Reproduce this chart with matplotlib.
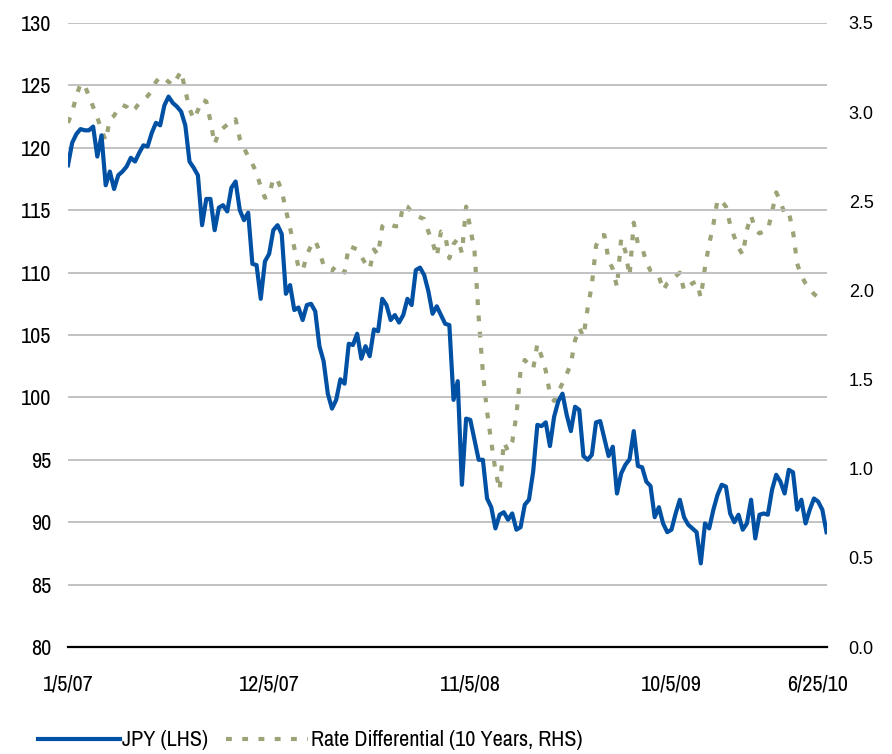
import matplotlib
matplotlib.use("Agg")
import matplotlib.pyplot as plt
import matplotlib.transforms as mtransforms
from matplotlib import font_manager
import numpy as np
import pandas as pd

# Weekly observations, Friday closes starting 5 Jan 2007
jpy = [
    118.6, 120.4, 121.1, 121.5, 121.4, 121.4, 121.7, 119.3, 121.0, 117.0,
    118.1, 116.7, 117.8, 118.1, 118.5, 119.2, 118.9, 119.6, 120.2, 120.1,
    121.2, 122.0, 121.8, 123.4, 124.1, 123.6, 123.3, 122.9, 121.8, 118.9,
    118.4, 117.8, 113.8, 115.9, 115.9, 113.4, 115.2, 115.4, 114.9, 116.8,
    117.3, 115.0, 114.2, 114.8, 110.7, 110.6, 107.9, 110.9, 111.5, 113.4,
    113.8, 113.1, 108.3, 109.0, 107.0, 107.2, 106.2, 107.4, 107.5, 106.9,
    104.1, 102.9, 100.3, 99.1, 99.8, 101.45, 101.1, 104.3, 104.2, 105.1,
    103.1, 104.1, 103.3, 105.45, 105.3, 107.9, 107.4, 106.2, 106.6, 106.0,
    106.6, 107.9, 107.4, 110.2, 110.4, 109.8, 108.5, 106.7, 107.3, 106.6,
    105.9, 105.8, 99.8, 101.3, 93.0, 98.3, 98.2, 96.6, 95.0, 95.0,
    91.9, 91.2, 89.5, 90.6, 90.8, 90.2, 90.7, 89.4, 89.6, 91.4,
    91.8, 94.05, 97.8, 97.7, 98.0, 96.1, 98.45, 99.7, 100.3, 98.6,
    97.3, 99.25, 99.0, 95.3, 95.0, 95.4, 98.0, 98.1, 96.7, 95.3,
    96.05, 92.3, 93.9, 94.6, 95.04, 97.3, 94.5, 94.4, 93.25, 92.9,
    90.4, 91.2, 89.9, 89.2, 89.4, 90.7, 91.8, 90.4, 89.8, 89.5,
    89.2, 86.7, 89.9, 89.5, 91.0, 92.2, 93.0, 92.85, 90.7, 90.0,
    90.6, 89.4, 89.9, 91.8, 88.7, 90.6, 90.7, 90.6, 92.6, 93.8,
    93.25, 92.3, 94.2, 94.0, 91.0, 91.8, 89.9, 91.0, 91.9, 91.65,
    91.0, 89.2,
]

rate_diff = [
    2.94, 3.00, 3.09, 3.16, 3.15, 3.09, 3.03, 2.97, 2.90, 2.84,
    2.96, 2.98, 3.02, 3.04, 3.03, 3.00, 3.02, 3.05, 3.07, 3.09,
    3.12, 3.17, 3.20, 3.19, 3.17, 3.15, 3.19, 3.23, 3.12, 3.02,
    2.96, 3.01, 3.07, 3.06, 2.95, 2.82, 2.89, 2.91, 2.93, 2.93,
    2.96, 2.85, 2.80, 2.75, 2.71, 2.66, 2.58, 2.52, 2.53, 2.63,
    2.62, 2.56, 2.45, 2.35, 2.24, 2.13, 2.11, 2.20, 2.25, 2.28,
    2.22, 2.14, 2.12, 2.11, 2.14, 2.12, 2.10, 2.25, 2.24, 2.23,
    2.19, 2.15, 2.12, 2.23, 2.20, 2.36, 2.38, 2.37, 2.36, 2.36,
    2.48, 2.47, 2.44, 2.42, 2.41, 2.40, 2.33, 2.27, 2.19, 2.33,
    2.31, 2.18, 2.26, 2.29, 2.21, 2.47, 2.35, 2.22, 1.85, 1.54,
    1.32, 1.15, 0.99, 0.88, 1.15, 1.10, 1.15, 1.30, 1.55, 1.61,
    1.58, 1.56, 1.70, 1.63, 1.55, 1.42, 1.38, 1.43, 1.48, 1.53,
    1.59, 1.72, 1.79, 1.74, 1.90, 2.03, 2.25, 2.31, 2.31, 2.17,
    2.12, 2.02, 2.29, 2.22, 2.08, 2.38, 2.26, 2.24, 2.16, 2.11,
    2.10, 2.08, 2.00, 2.04, 2.06, 2.08, 2.10, 2.00, 2.02, 2.04,
    2.05, 1.96, 2.13, 2.26, 2.37, 2.51, 2.50, 2.47, 2.37, 2.30,
    2.24, 2.20, 2.34, 2.42, 2.34, 2.32, 2.33, 2.34, 2.44, 2.55,
    2.50, 2.43, 2.44, 2.33, 2.15, 2.08, 2.04, 2.01, 1.98, 1.96,
]

dates = pd.date_range("2007-01-05", periods=len(jpy), freq="7D")
tick_labels = ["1/5/07", "12/5/07", "11/5/08", "10/5/09", "6/25/10"]
tick_idx = [0, 48, 96, 144, len(jpy) - 1]

left_ticks = np.arange(80, 131, 5)
right_ticks = np.arange(0.0, 3.51, 0.5)

# prefer a narrow sans face for the axis text when one is available
narrow_family, narrow_stretch = "Liberation Sans", "normal"
for f in font_manager.fontManager.ttflist:
    if "Narrow" in f.name or "Condensed" in f.name:
        narrow_family, narrow_stretch = f.name, "normal"
        break
else:
    for f in font_manager.fontManager.ttflist:
        if f.stretch in ("condensed", "semi-condensed") and f.style == "normal":
            narrow_family, narrow_stretch = f.name, f.stretch
            break
plt.rcParams["font.family"] = [narrow_family, "DejaVu Sans"]
plt.rcParams["font.stretch"] = narrow_stretch

BLUE = "#0050A4"
OLIVE = "#9EA277"
GRID = "#BDBDBD"

fig = plt.figure(figsize=(8.92, 7.54), dpi=100)
ax = fig.add_axes([0.0762, 0.1419, 0.8504, 0.8276])
ax2 = ax.twinx()

x = np.arange(len(jpy))
xr = np.arange(len(rate_diff))

ax.set_zorder(ax2.get_zorder() + 1)
ax.patch.set_visible(False)

ax.plot(x, jpy, color=BLUE, lw=3.0, solid_joinstyle="round", label="JPY (LHS)", zorder=3)
ax2.plot(xr, rate_diff, color=OLIVE, lw=3.0, dashes=(1.4, 2.5),
         label="Rate Differential (10 Years, RHS)", zorder=2)

ax.set_xlim(0, len(jpy) - 1)
ax.set_ylim(80, 130)
ax2.set_ylim(0, 3.5)

ax.set_yticks(left_ticks)
ax.set_yticklabels([f"{v:d}" for v in left_ticks])
ax2.set_yticks(right_ticks)
ax2.set_yticklabels([f"{v:.1f}" for v in right_ticks])

ax2.grid(False)
ax.yaxis.grid(True, color=GRID, lw=1.3)
ax.set_axisbelow(True)

ax.set_xticks(tick_idx)
ax.set_xticklabels(tick_labels)

for a in (ax, ax2):
    for s in ("top", "left", "right", "bottom"):
        a.spines[s].set_visible(False)
ax.spines["bottom"].set_visible(True)
ax.spines["bottom"].set_color("black")
ax.spines["bottom"].set_linewidth(1.6)

fs = 16 if narrow_family != "Liberation Sans" else 13
ax.tick_params(axis="y", length=0, pad=12, labelsize=fs)
ax.tick_params(axis="x", length=0, pad=20, labelsize=fs)
ax2.tick_params(axis="y", length=0, pad=16, labelsize=13)
for lab in ax2.get_yticklabels():
    lab.set_family(["Liberation Sans", "DejaVu Sans"])
    lab.set_stretch("normal")

# pull the final date label back inside the plotting area
last = ax.get_xticklabels()[-1]
last.set_transform(last.get_transform() + mtransforms.ScaledTranslation(-9 / 100, 0, fig.dpi_scale_trans))

h1, l1 = ax.get_legend_handles_labels()
h2, l2 = ax2.get_legend_handles_labels()
fig.legend(h1 + h2, l1 + l2, loc="center left", bbox_to_anchor=(0.03, 0.018),
           ncol=2, frameon=False, fontsize=fs, handlelength=3.7,
           handletextpad=0.1, columnspacing=0.8, borderpad=0.0)

fig.savefig("out.png", dpi=100)
